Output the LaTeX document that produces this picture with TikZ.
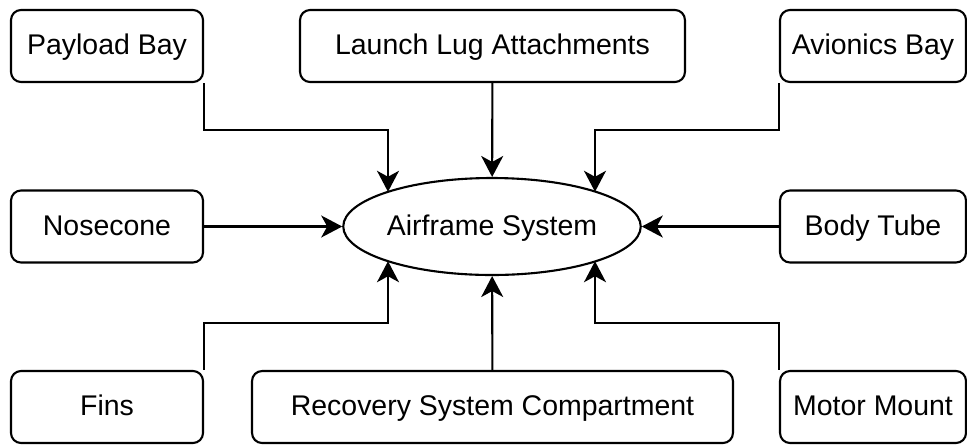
\documentclass[tikz,border=0pt]{standalone}
\usepackage{fontspec}
\setmainfont{Liberation Sans}
\usetikzlibrary{arrows.meta, shapes.geometric}

\begin{document}
\begin{tikzpicture}[
		x=0.02cm, y=-0.02cm,
		box/.style={draw, rounded corners=0.2cm, minimum width=3.84cm, minimum height=1.44cm, inner sep=0pt, text height=13pt, text depth=3pt},
		sys/.style={draw, ellipse, minimum width=5.8cm, minimum height=1.94cm, inner sep=0pt, text height=13pt, text depth=3pt},
		line width=1.2pt,
		>={Stealth[length=0.42cm, width=0.44cm, inset=0.12cm]},
		font=\fontsize{16.2}{19.4}\selectfont
		]
		\useasboundingbox (0,0) rectangle (967,444);
		
		\node[sys] (air) at (492,226.5) {Airframe System};
		
		\node[box] (pay) at (107,46) {Payload Bay};
		\node[box, minimum width=7.7cm] (lug) at (492.5,46) {Launch Lug Attachments};
		\node[box, minimum width=3.72cm] (avi) at (873,46) {Avionics Bay};
		
		\node[box] (nose) at (107,226.5) {Nosecone};
		\node[box, minimum width=3.72cm] (body) at (873,226.5) {Body Tube};
		
		\node[box] (fins) at (107,407) {Fins};
		\node[box, minimum width=9.62cm] (rec) at (492.5,407) {Recovery System Compartment};
		\node[box, minimum width=3.72cm] (mot) at (873,407) {Motor Mount};
		
		% bends of the side connectors
		\coordinate (jpay) at (388,130);
		\coordinate (javi) at (595,130);
		\coordinate (jfin) at (388,323);
		\coordinate (jmot) at (595,323);
		
		\draw[->] (pay.south east) |- (jpay) -- (jpay |- air.162);
		\draw[->] (lug) -- (air);
		\draw[->] (avi.south west) |- (javi) -- (javi |- air.18);
		
		\draw[->] (nose) -- (air);
		\draw[->] (body) -- (air);
		
		\draw[->] (fins.north east) |- (jfin) -- (jfin |- air.198);
		\draw[->] (rec) -- (air);
		\draw[->] (mot.north west) |- (jmot) -- (jmot |- air.342);
		
	\end{tikzpicture}
\end{document}
